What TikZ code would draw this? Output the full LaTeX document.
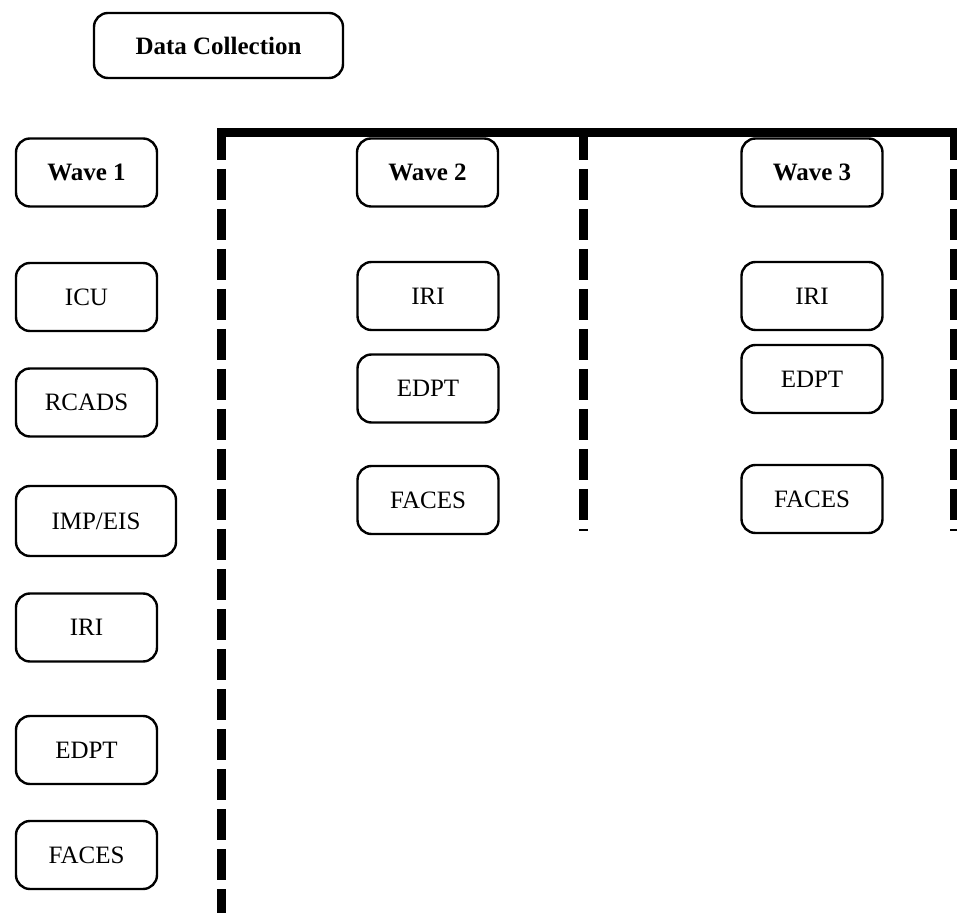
\documentclass[tikz,border=0pt]{standalone}
\usepackage{fontspec}
\setmainfont{Liberation Serif}
\usepackage{tikz}

\begin{document}
\begin{tikzpicture}[x=0.5pt, y=-0.5pt, font=\fontsize{12.5}{14}\selectfont,
    box/.style={draw, rounded corners=7pt, line width=1.2pt, minimum width=70.5pt, minimum height=34pt, inner sep=2pt},
    divider/.style={line width=4.5pt, dash pattern=on 15.5pt off 4.5pt}]
      \useasboundingbox (0,0) rectangle (957,913);

      % Define coordinates
      \coordinate (left_top) at (221.5, 129);
      \coordinate (left_bottom) at (221.5, 920);
      \coordinate (mid_top) at (583.5, 129);
      \coordinate (mid_bottom) at (583.5, 531);
      \coordinate (right_top) at (954.5, 129);
      \coordinate (right_bottom) at (954.5, 531);
      \coordinate (bar_left) at (217, 133);
      \coordinate (bar_right) at (962, 133);

      % Draw the heading
      \node[box, minimum width=124.5pt, minimum height=32.5pt] (datacoll) at (218.5, 45.5) {\textbf{Data Collection}};

      % Draw the first wave (left column)
      \node[box] (wave1) at (86.5, 172.5) {\textbf{Wave 1}};
      \node[box] (icu) at (86.5, 297) {ICU};
      \node[box] (rcads) at (86.5, 402.5) {RCADS};
      \node[box, minimum width=80pt, minimum height=35pt] (impeis) at (96, 521) {IMP/EIS};
      \node[box] (iri1) at (86.5, 627.5) {IRI};
      \node[box] (edpt1) at (86.5, 750) {EDPT};
      \node[box] (faces1) at (86.5, 855) {FACES};

      % Draw the second wave
      \node[box] (wave2) at (427.5, 172.5) {\textbf{Wave 2}};
      \node[box] (iri2) at (428, 296) {IRI};
      \node[box] (edpt2) at (428, 388.5) {EDPT};
      \node[box] (faces2) at (428, 500) {FACES};

      % Draw the third wave
      \node[box] (wave3) at (812, 172.5) {\textbf{Wave 3}};
      \node[box] (iri3) at (812, 296) {IRI};
      \node[box] (edpt3) at (812, 379) {EDPT};
      \node[box] (faces3) at (812, 499) {FACES};

      % Draw the bar and the dashed dividers
      \draw[line width=4.5pt] (bar_left) -- (bar_right);
      \draw[divider] (left_top) -- (left_bottom);
      \draw[divider] (mid_top) -- (mid_bottom);
      \draw[divider] (right_top) -- (right_bottom);
    \end{tikzpicture}
\end{document}
